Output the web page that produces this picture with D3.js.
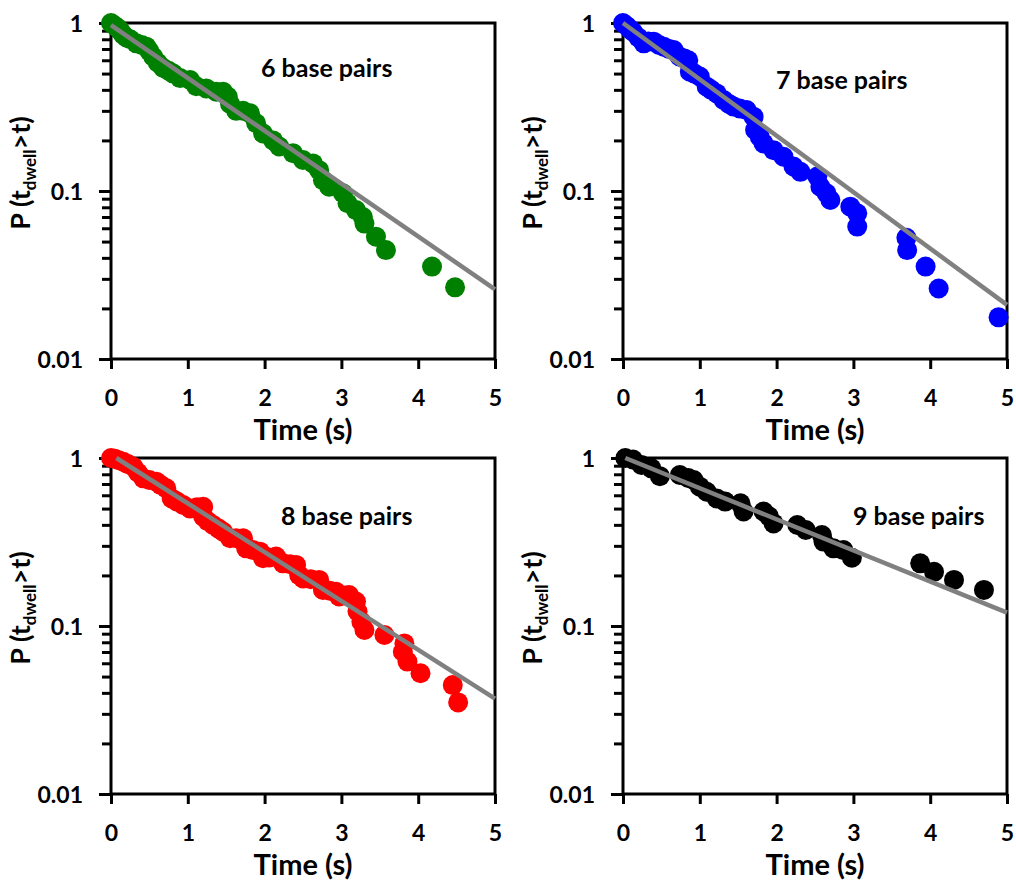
<!DOCTYPE html>
<html>
<head>
<meta charset="utf-8">
<script src="https://cdn.jsdelivr.net/npm/d3@7/dist/d3.min.js"></script>
<style>
body { margin: 0; background: #ffffff; }
text { font-family: Lato, "Open Sans", sans-serif; font-weight: bold; fill: #000; }
</style>
</head>
<body>
<div id="chart"></div>
<script>
// panel titles and colours
var panelNames = ["6 base pairs", "7 base pairs", "8 base pairs", "9 base pairs"];
var panelColors = ["#008000", "#0000ff", "#ff0000", "#000000"];

var xTicks = [0, 1, 2, 3, 4, 5];
var yMajor = [0.01, 0.1, 1];

// survival data (time in s, P(t_dwell > t))
var time6 = [0, 0.04, 0.08, 0.12, 0.16, 0.2, 0.25, 0.33, 0.4, 0.46, 0.5, 0.55, 0.61, 0.68, 0.75, 0.81, 0.9, 1.03,
    1.11, 1.24, 1.37, 1.46, 1.52, 1.55, 1.63, 1.72, 1.81, 1.89, 1.98, 2.11, 2.19, 2.37, 2.5, 2.63, 2.71, 2.76,
    2.84, 3.02, 3.08, 3.19, 3.28, 3.3, 3.45, 3.58, 4.18, 4.48];
var prob6 = [1.0, 0.97, 0.94, 0.9, 0.85, 0.82, 0.8, 0.757, 0.74, 0.723, 0.68, 0.63, 0.58, 0.54, 0.52, 0.5, 0.47, 0.458,
    0.42, 0.408, 0.39, 0.39, 0.365, 0.33, 0.3, 0.3, 0.29, 0.253, 0.22, 0.2, 0.184, 0.168, 0.153, 0.146, 0.133, 0.116,
    0.106, 0.097, 0.0845, 0.077, 0.07, 0.064, 0.0535, 0.0445, 0.0355, 0.0267];

var time7 = [0, 0.05, 0.09, 0.13, 0.2, 0.27, 0.33, 0.4, 0.47, 0.53, 0.6, 0.66, 0.74, 0.8, 0.85, 0.87, 0.93, 1.0,
    1.09, 1.15, 1.22, 1.31, 1.38, 1.44, 1.52, 1.61, 1.7, 1.72, 1.78, 1.83, 1.96, 2.09, 2.22, 2.31, 2.53, 2.57,
    2.65, 2.7, 2.96, 3.05, 3.05, 3.69, 3.7, 3.94, 4.11, 4.89];
var prob7 = [1.0, 0.96, 0.92, 0.887, 0.82, 0.757, 0.775, 0.774, 0.74, 0.723, 0.7, 0.69, 0.63, 0.615, 0.6, 0.513, 0.5, 0.48,
    0.418, 0.4, 0.381, 0.348, 0.33, 0.318, 0.31, 0.303, 0.277, 0.231, 0.21, 0.192, 0.175, 0.16, 0.14, 0.13, 0.122, 0.106,
    0.097, 0.0884, 0.0807, 0.0736, 0.0614, 0.0527, 0.0445, 0.0355, 0.0263, 0.0177];

var time8 = [0, 0.05, 0.1, 0.16, 0.22, 0.29, 0.35, 0.42, 0.5, 0.59, 0.65, 0.72, 0.79, 0.86, 0.94, 1.03, 1.12, 1.2,
    1.2, 1.26, 1.33, 1.4, 1.46, 1.55, 1.63, 1.72, 1.76, 1.85, 1.94, 1.98, 2.06, 2.15, 2.24, 2.33, 2.41, 2.45, 2.5,
    2.6, 2.71, 2.76, 2.85, 2.93, 2.97, 3.05, 3.1, 3.19, 3.21, 3.26, 3.3, 3.56, 3.82, 3.8, 3.86, 4.03, 4.45, 4.52];
var prob8 = [1.0, 0.99, 0.97, 0.95, 0.92, 0.887, 0.82, 0.757, 0.74, 0.723, 0.69, 0.66, 0.575, 0.55, 0.525, 0.5, 0.51, 0.513,
    0.448, 0.42, 0.399, 0.38, 0.364, 0.333, 0.333, 0.333, 0.29, 0.283, 0.277, 0.253, 0.256, 0.259, 0.236, 0.233, 0.231,
    0.201, 0.192, 0.19, 0.188, 0.164, 0.162, 0.16, 0.15, 0.152, 0.153, 0.14, 0.122, 0.106, 0.0946, 0.0884, 0.0788,
    0.0703, 0.0614, 0.0523, 0.0445, 0.0351];

var time9 = [0.03, 0.13, 0.24, 0.37, 0.48, 0.74, 0.85, 0.92, 1.0, 1.09, 1.22, 1.33, 1.53, 1.57, 1.83, 1.9, 1.96,
    2.27, 2.38, 2.59, 2.61, 2.74, 2.87, 2.98, 3.87, 4.05, 4.31, 4.7];
var prob9 = [1.0, 0.98, 0.91, 0.868, 0.78, 0.792, 0.76, 0.74, 0.675, 0.63, 0.575, 0.55, 0.537, 0.48, 0.48, 0.45, 0.408,
    0.399, 0.373, 0.348, 0.318, 0.29, 0.283, 0.255, 0.236, 0.21, 0.188, 0.164];

// single exponential fits, start and end of each grey line
var fitStartT = [0, 0, 0.07, 0.03];
var fitStartP = [0.97, 1.0, 1.0, 1.0];
var fitEndT = [5, 5, 5, 5];
var fitEndP = [0.026, 0.021, 0.037, 0.12];

var allTimes = [time6, time7, time8, time9];
var allProbs = [prob6, prob7, prob8, prob9];

// layout
var width = 1016, height = 881;
var panelLeft = [111, 623, 111, 623];
var panelTop = [23, 23, 458, 458];
var plotW = 384, plotH = 336;
var titlePos = [[150, 54], [153, 66], [170, 67], [230, 67]];

var svg = d3.select("#chart")
    .append("svg")
    .attr("width", width)
    .attr("height", height);

function drawPanel(i) {
    var g = svg.append("g")
        .attr("transform", "translate(" + panelLeft[i] + "," + panelTop[i] + ")");

    var x = d3.scaleLinear().domain([0, 5]).range([0, plotW]);
    var y = d3.scaleLog().domain([0.01, 1]).range([plotH, 0]);

    // 2..9 of every decade
    var minor = y.ticks().filter(function(d) { return Math.abs(Math.log10(d) % 1) > 1e-6; });

    var yMinorAxis = g.append("g")
        .call(d3.axisLeft(y).tickValues(minor).tickSize(9).tickFormat(""));
    var yAxis = g.append("g")
        .call(d3.axisLeft(y).tickValues(yMajor).tickSize(12).tickPadding(16)
            .tickFormat(function(d) { return d3.format("~g")(d); }));
    var xAxis = g.append("g")
        .attr("transform", "translate(0," + plotH + ")")
        .call(d3.axisBottom(x).tickValues(xTicks).tickSize(10).tickPadding(0).tickFormat(d3.format("d")));

    [yMinorAxis, yAxis, xAxis].forEach(function(a) {
        a.select(".domain").remove();
        a.selectAll("line").attr("stroke", "#000").attr("stroke-width", 3);
        a.selectAll("text").attr("font-size", 23).attr("font-family", "Lato").attr("font-weight", "bold");
    });
    yAxis.selectAll("text").attr("dy", "0.36em");
    xAxis.selectAll("text").attr("dy", 0).attr("y", 47);

    // frame
    g.append("rect")
        .attr("width", plotW)
        .attr("height", plotH)
        .attr("fill", "none")
        .attr("stroke", "#000")
        .attr("stroke-width", 3);

    // points
    var pts = allTimes[i].map(function(t, k) { return {t: t, p: allProbs[i][k]}; });
    g.append("g").selectAll("circle")
        .data(pts)
        .enter().append("circle")
        .attr("cx", function(d) { return x(d.t); })
        .attr("cy", function(d) { return y(d.p); })
        .attr("r", 10)
        .style("fill", panelColors[i]);

    // fit line
    var fit = [{t: fitStartT[i], p: fitStartP[i]}, {t: fitEndT[i], p: fitEndP[i]}];
    g.append("path")
        .datum(fit)
        .attr("d", d3.line().x(function(d) { return x(d.t); }).y(function(d) { return y(d.p); }))
        .attr("fill", "none")
        .attr("stroke", "#808080")
        .attr("stroke-width", 4.5);

    // panel name
    g.append("text")
        .attr("x", titlePos[i][0])
        .attr("y", titlePos[i][1])
        .attr("font-size", 25)
        .text(panelNames[i]);

    // axis titles
    g.append("text")
        .attr("x", plotW / 2)
        .attr("y", plotH + 81)
        .attr("text-anchor", "middle")
        .attr("font-size", 29)
        .text("Time (s)");

    var yl = g.append("text")
        .attr("transform", "translate(-81," + 150 + ") rotate(-90)")
        .attr("text-anchor", "middle")
        .attr("font-size", 27);
    yl.append("tspan").text("P (t");
    yl.append("tspan").attr("font-size", 17).attr("dy", 6).text("dwell");
    yl.append("tspan").attr("dy", -6).text(">t)");
}

for (var i = 0; i < 4; i++) {
    drawPanel(i);
}
</script>
</body>
</html>
